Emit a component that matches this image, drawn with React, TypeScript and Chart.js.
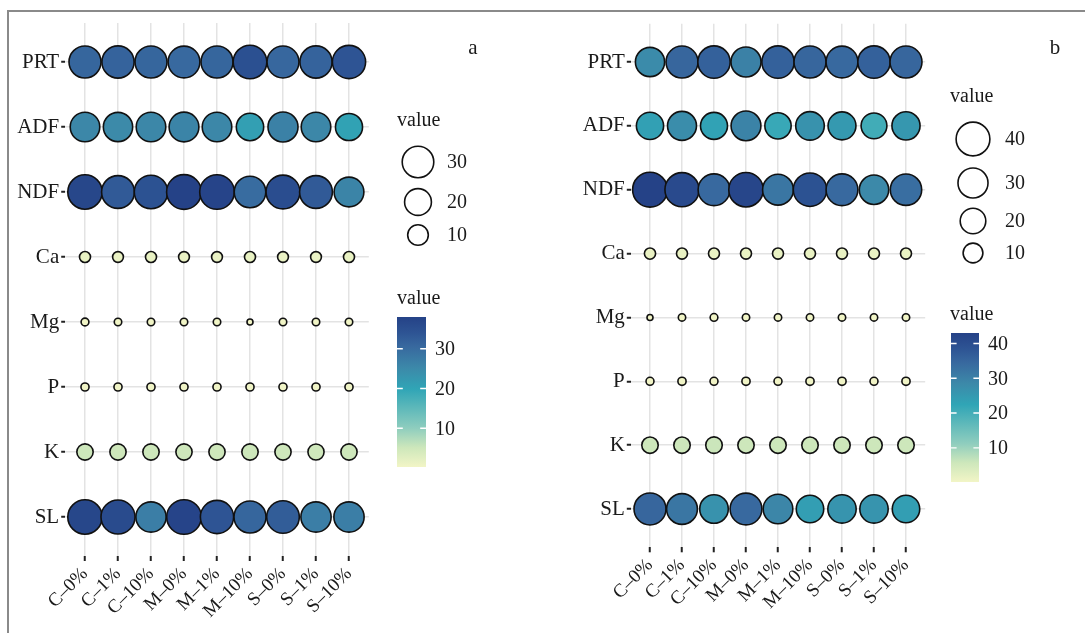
import React, { useEffect, useRef } from 'react';
import { Chart, registerables } from 'chart.js';

Chart.register(...registerables);

// ---------- data ----------
const categories = ['C–0%', 'C–1%', 'C–10%', 'M–0%', 'M–1%', 'M–10%', 'S–0%', 'S–1%', 'S–10%'];
const variables = ['PRT', 'ADF', 'NDF', 'Ca', 'Mg', 'P', 'K', 'SL'];

// panel a
const prtA = [31, 31.5, 31, 30.5, 31, 35, 30.8, 31.5, 34];
const adfA = [25.5, 25, 25.5, 26, 25.5, 21, 26.5, 25.5, 20.5];
const ndfA = [37, 33, 34.5, 38, 37.5, 30, 35.5, 33, 26];
const caA = [1.4, 1.3, 1.4, 1.3, 1.3, 1.4, 1.3, 1.3, 1.4];
const mgA = [0.4, 0.35, 0.35, 0.35, 0.35, 0.25, 0.35, 0.35, 0.35];
const pA = [0.45, 0.45, 0.45, 0.45, 0.45, 0.45, 0.45, 0.45, 0.45];
const kA = [5.1, 5.0, 5.1, 5.0, 5.0, 5.1, 5.0, 4.9, 5.0];
const slA = [37, 36, 27, 37.5, 34, 31, 32.5, 27, 27];

// panel b
const prtB = [28, 35, 36, 30, 36, 35, 34.5, 36, 35];
const adfB = [23.5, 27.5, 23, 29.5, 21.5, 26.5, 25, 20.5, 25.5];
const ndfB = [43, 41, 34.5, 42, 32, 39, 34.5, 28.5, 33.5];
const caB = [1.6, 1.5, 1.5, 1.5, 1.5, 1.5, 1.5, 1.5, 1.5];
const mgB = [0.2, 0.3, 0.35, 0.3, 0.3, 0.3, 0.3, 0.3, 0.3];
const pB = [0.4, 0.45, 0.4, 0.45, 0.4, 0.45, 0.45, 0.4, 0.45];
const kB = [5.8, 5.8, 5.9, 5.7, 5.8, 5.8, 5.7, 5.8, 5.8];
const slB = [35, 32, 26.5, 34.5, 29, 24, 26, 26, 24];

// legend breaks
const sizeBreaksA = [30, 20, 10];
const colorBreaksA = [10, 20, 30];
const sizeBreaksB = [40, 30, 20, 10];
const colorBreaksB = [10, 20, 30, 40];

// ---------- styling helpers ----------
const FONT = "'Liberation Serif', 'Times New Roman', Times, serif";
const TEXT = '#1a1a1a';
const GRID = '#e3e3e3';

const paletteStops: [number, string][] = [
  [0.0, '#f2f5c6'],
  [0.13, '#cde7bb'],
  [0.26, '#8ecdbe'],
  [0.52, '#30a5b6'],
  [0.66, '#3c89a9'],
  [0.8, '#38699f'],
  [0.9, '#2d5393'],
  [1.0, '#254287'],
];

function hexToRgb(h: string) {
  const n = parseInt(h.slice(1), 16);
  return [(n >> 16) & 255, (n >> 8) & 255, n & 255];
}

function paletteAt(t: number) {
  const tt = Math.min(1, Math.max(0, t));
  for (let i = 1; i < paletteStops.length; i++) {
    const [t1, c1] = paletteStops[i];
    const [t0, c0] = paletteStops[i - 1];
    if (tt <= t1) {
      const f = (tt - t0) / (t1 - t0);
      const a = hexToRgb(c0);
      const b = hexToRgb(c1);
      const m = a.map((v, k) => Math.round(v + (b[k] - v) * f));
      return `rgb(${m[0]},${m[1]},${m[2]})`;
    }
  }
  return paletteStops[paletteStops.length - 1][1];
}

const R0 = 3;
const RK = 14.4;

type PanelCfg = {
  rows: number[][];
  left: number;
  width: number;
  yAxisWidth: number;
  padTop: number;
  padRight: number;
  xAxisHeight: number;
  padBottom: number;
  tag: string;
  tagX: number;
  tagY: number;
  sizeBreaks: number[];
  sizeTitle: [number, number];
  sizeCx: number;
  sizeCy: number[];
  sizeLabelX: number;
  colorBreaks: number[];
  colorTitle: [number, number];
  bar: { x: number; y: number; w: number; h: number };
  colorLabelX: number;
};

const panelA: PanelCfg = {
  rows: [prtA, adfA, ndfA, caA, mgA, pA, kA, slA],
  left: 0,
  width: 540,
  yAxisWidth: 65.2,
  padTop: 23,
  padRight: 171.2,
  xAxisHeight: 70,
  padBottom: 7,
  tag: 'a',
  tagX: 473,
  tagY: 48,
  sizeBreaks: sizeBreaksA,
  sizeTitle: [397, 121],
  sizeCx: 418,
  sizeCy: [162, 202, 235],
  sizeLabelX: 447,
  colorBreaks: colorBreaksA,
  colorTitle: [397, 299],
  bar: { x: 397, y: 317, w: 29, h: 150 },
  colorLabelX: 435,
};

const panelB: PanelCfg = {
  rows: [prtB, adfB, ndfB, caB, mgB, pB, kB, slB],
  left: 540,
  width: 545,
  yAxisWidth: 90.8,
  padTop: 23.7,
  padRight: 159.8,
  xAxisHeight: 70,
  padBottom: 15.7,
  tag: 'b',
  tagX: 515,
  tagY: 48,
  sizeBreaks: sizeBreaksB,
  sizeTitle: [410, 97],
  sizeCx: 433,
  sizeCy: [139, 183, 221, 253],
  sizeLabelX: 465,
  colorBreaks: colorBreaksB,
  colorTitle: [410, 315],
  bar: { x: 411, y: 333, w: 28, h: 149 },
  colorLabelX: 448,
};

function Panel({ cfg }: { cfg: PanelCfg }) {
  const ref = useRef<HTMLCanvasElement | null>(null);

  useEffect(() => {
    if (!ref.current) return;
    const all = cfg.rows.flat();
    const vmin = Math.min(...all);
    const vmax = Math.max(...all);
    const sizeOf = (v: number) => R0 + RK * Math.sqrt(Math.max(0, (v - vmin) / (vmax - vmin)));
    const colorOf = (v: number) => paletteAt((v - vmin) / (vmax - vmin));

    const datasets = cfg.rows.map((row, ri) => ({
      label: variables[ri],
      data: row.map((v, ci) => ({ x: ci, y: ri, r: sizeOf(v), v })),
      backgroundColor: (c: any) => (c.raw ? colorOf(c.raw.v) : '#fff'),
      borderColor: '#111111',
      borderWidth: 1.6,
      hoverBorderWidth: 1.6,
      hoverRadius: 0,
      clip: false as any,
    }));

    const sideLegend = {
      id: 'sideLegend',
      afterDraw(chart: any) {
        const ctx = chart.ctx as CanvasRenderingContext2D;
        ctx.save();
        ctx.fillStyle = TEXT;
        ctx.textBaseline = 'middle';
        // panel tag
        ctx.font = `21px ${FONT}`;
        ctx.textAlign = 'center';
        ctx.fillText(cfg.tag, cfg.tagX, cfg.tagY);
        // size legend
        ctx.textAlign = 'left';
        ctx.font = `20px ${FONT}`;
        ctx.fillText('value', cfg.sizeTitle[0], cfg.sizeTitle[1]);
        cfg.sizeBreaks.forEach((b, i) => {
          const r = sizeOf(b);
          ctx.beginPath();
          ctx.arc(cfg.sizeCx, cfg.sizeCy[i], r, 0, Math.PI * 2);
          ctx.fillStyle = '#ffffff';
          ctx.fill();
          ctx.lineWidth = 1.6;
          ctx.strokeStyle = '#111111';
          ctx.stroke();
          ctx.fillStyle = TEXT;
          ctx.fillText(String(b), cfg.sizeLabelX, cfg.sizeCy[i] + 1);
        });
        // colour bar
        ctx.fillText('value', cfg.colorTitle[0], cfg.colorTitle[1]);
        const { x, y, w, h } = cfg.bar;
        const g = ctx.createLinearGradient(0, y + h, 0, y);
        paletteStops.forEach(([t, c]) => g.addColorStop(t, c));
        ctx.fillStyle = g;
        ctx.fillRect(x, y, w, h);
        cfg.colorBreaks.forEach((b) => {
          const py = y + h - ((b - vmin) / (vmax - vmin)) * h;
          ctx.strokeStyle = '#ffffff';
          ctx.lineWidth = 1.4;
          ctx.beginPath();
          ctx.moveTo(x, py);
          ctx.lineTo(x + w / 5, py);
          ctx.moveTo(x + w - w / 5, py);
          ctx.lineTo(x + w, py);
          ctx.stroke();
          ctx.fillStyle = TEXT;
          ctx.fillText(String(b), cfg.colorLabelX, py + 1);
        });
        ctx.restore();
      },
    };

    const chart = new Chart(ref.current, {
      type: 'bubble',
      data: { datasets: datasets as any },
      options: {
        animation: false,
        responsive: false,
        devicePixelRatio: 1,
        events: [],
        layout: {
          padding: { left: 0, top: cfg.padTop, right: cfg.padRight, bottom: cfg.padBottom },
        },
        plugins: {
          legend: { display: false },
          tooltip: { enabled: false },
        },
        scales: {
          x: {
            type: 'linear',
            position: 'bottom',
            min: -0.6,
            max: categories.length - 1 + 0.6,
            afterBuildTicks: (scale: any) => {
              scale.ticks = categories.map((_, i) => ({ value: i }));
            },
            afterFit: (scale: any) => {
              scale.height = cfg.xAxisHeight;
            },
            ticks: {
              autoSkip: false,
              maxRotation: 45,
              minRotation: 45,
              padding: 2,
              color: TEXT,
              font: { family: FONT, size: 19 },
              callback: (v: any) => categories[v as number] ?? '',
            },
            grid: {
              color: GRID,
              lineWidth: 1.5,
              tickColor: '#222222',
              tickWidth: 2,
              tickLength: 5,
            },
            border: { display: false },
          },
          y: {
            type: 'linear',
            reverse: true,
            min: -0.6,
            max: variables.length - 1 + 0.6,
            afterBuildTicks: (scale: any) => {
              scale.ticks = variables.map((_, i) => ({ value: i }));
            },
            afterFit: (scale: any) => {
              scale.width = cfg.yAxisWidth;
            },
            ticks: {
              autoSkip: false,
              padding: 2,
              color: TEXT,
              font: { family: FONT, size: 21 },
              callback: (v: any) => variables[v as number] ?? '',
            },
            grid: {
              color: GRID,
              lineWidth: 1.5,
              tickColor: '#222222',
              tickWidth: 2,
              tickLength: 4,
            },
            border: { display: false },
          },
        },
      },
      plugins: [sideLegend],
    });
    return () => chart.destroy();
  }, [cfg]);

  return (
    <canvas
      ref={ref}
      width={cfg.width}
      height={633}
      style={{ position: 'absolute', left: cfg.left, top: 0, width: cfg.width, height: 633 }}
    />
  );
}

export default function App() {
  return (
    <div
      style={{
        position: 'absolute',
        left: 0,
        top: 0,
        width: 1085,
        height: 633,
        background: '#ffffff',
        overflow: 'hidden',
      }}
    >
      <div
        style={{
          position: 'absolute',
          left: 7,
          top: 10,
          width: 1090,
          height: 640,
          borderTop: '2px solid #8a8a8a',
          borderLeft: '2px solid #8a8a8a',
        }}
      />
      <Panel cfg={panelA} />
      <Panel cfg={panelB} />
    </div>
  );
}
